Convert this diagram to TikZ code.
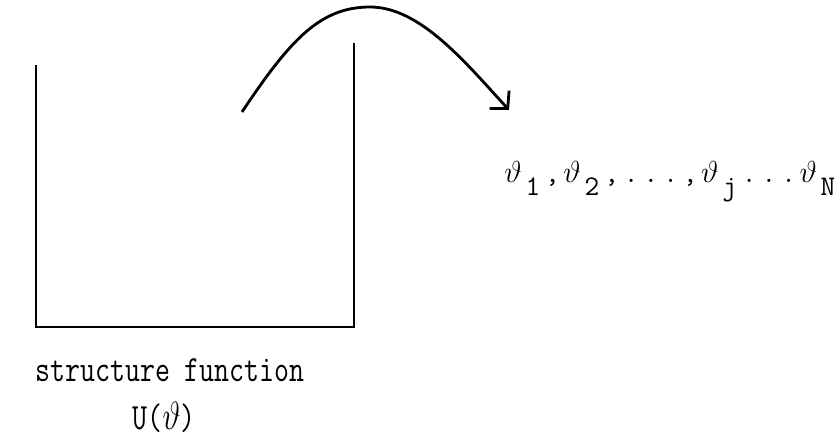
\documentclass[tikz,border=0pt]{standalone}
\usepackage{tikz}
\usetikzlibrary{calc,positioning,arrows.meta}

% typewriter cells for the sequence of angles
\newcommand{\vt}{\(\vartheta\)}
\newcommand{\tc}[1]{\makebox[11.2pt]{#1}}
\newcommand{\low}[1]{\raisebox{-7pt}{#1}}
\newcommand{\tallt}[1]{\scalebox{1.02}[1.3]{#1}}

\begin{document}
\begin{tikzpicture}[x=0.02cm,y=-0.02cm,
    wall/.style={line width=1.6pt,line join=miter},
    lbl/.style={font=\ttfamily\fontsize{16.2}{19}\selectfont,inner sep=0pt}]
    \useasboundingbox (0,0) rectangle (840,439);
    % the open box
    \coordinate (tl) at (36,65);
    \coordinate (bl) at (36,327);
    \coordinate (br) at (354,327);
    \coordinate (tr) at (354,43);
    \draw[wall] (tl) -- (bl) -- (br) -- (tr);

    \node[lbl,anchor=base] (sf) at (170,382) {\tallt{structure function}};
    \node[lbl,anchor=base] (uf) at (164,430) {\tallt{U(\vt)}};

    \node[lbl,anchor=base west] (seq) at (503,183)
        {\tc{\vt}\tc{\low{1}}\tc{,}\tc{\vt}\tc{\low{2}}\tc{,}\tc{.}\tc{.}\tc{.}\tc{,}%
         \tc{\vt}\tc{\low{j}}\tc{.}\tc{.}\tc{.}\tc{\vt}\tc{\low{N}}};

    % the jump out of the box
    \coordinate (src) at (242,112);
    \coordinate (top) at (370,7);
    \coordinate (dst) at (509,110);
    \draw[wall,-{Straight Barb[length=7pt,width=15pt]}] (src)
        .. controls (290,40) and (320,7) .. (top)
        .. controls (420,7) and (465,62) .. (dst);
\end{tikzpicture}
\end{document}
